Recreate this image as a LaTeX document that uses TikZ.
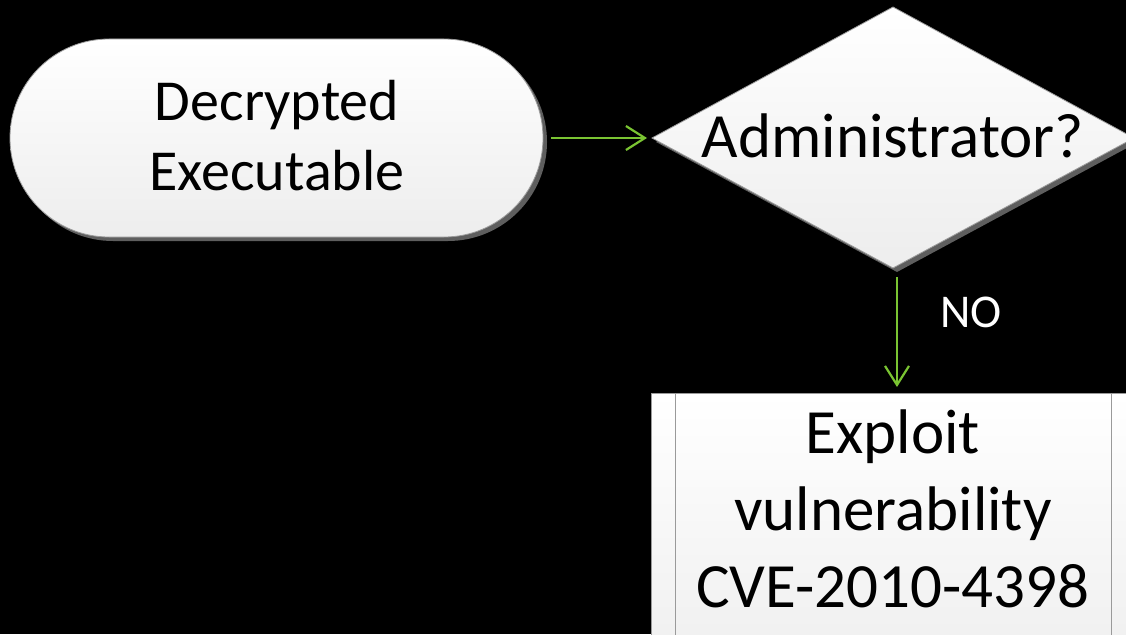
\documentclass[tikz,border=0pt]{standalone}
\usepackage{fontspec}
\setmainfont{Carlito}
\usetikzlibrary{arrows.meta,shadows}
\definecolor{arrgreen}{HTML}{7AC432}
\definecolor{shd}{HTML}{5E5E5E}
\definecolor{edgegray}{HTML}{9A9A9A}
\definecolor{fillbot}{HTML}{EDEDED}
\begin{document}
\begin{tikzpicture}[x=1pt,y=-1pt,
  shapefill/.style={top color=white, bottom color=fillbot, draw=edgegray, line width=0.8pt},
  shadowed/.style={drop shadow={shadow xshift=4pt, shadow yshift=-4pt, fill=shd, opacity=1}},
  termbox/.style={shapefill, shadowed, rounded corners=99pt, minimum width=533pt, minimum height=198pt, inner sep=0pt},
  arr/.style={draw=arrgreen, line width=2.2pt, -{Straight Barb[length=19pt,width=24pt]}},
  big/.style={font=\fontsize{63}{77}\selectfont, align=center, inner sep=0pt, text=black},
  mid/.style={font=\fontsize{58}{70}\selectfont, align=center, inner sep=0pt, text=black},
  nolbl/.style={font=\fontsize{47}{56}\selectfont, inner sep=0pt, text=white}]
\useasboundingbox[fill=black] (0,0) rectangle (1126,634);
\begin{scope}
\clip (0,0) rectangle (1126,634);
% terminator
\node[termbox] (dec) at (276.5,138) {};
\node[mid, anchor=base] (dect) at (277,190) {Decrypted\\Executable};
% decision
\coordinate (admN) at (893,7);
\coordinate (admE) at (1134,138);
\coordinate (admS) at (893,268);
\coordinate (admW) at (652,138);
\path[shapefill, shadowed] (admN) -- (admE) -- (admS) -- (admW) -- cycle;
\node[big, anchor=base] (admt) at (893,157) {Administrator?};
% predefined process
\coordinate (exNW) at (651,393);
\coordinate (exSE) at (1135,700);
\coordinate (exN) at (893,393);
\path[shapefill] (exNW) rectangle (exSE);
\draw[edgegray, line width=0.8pt] (675,393) -- (675,700) (1111,393) -- (1111,700);
\node[big, anchor=base] (expt) at (893,607) {Exploit\\vulnerability\\CVE-2010-4398};
% connectors
\draw[arr] ([xshift=8pt]dec.east) -- ([xshift=-5pt]admW);
\draw[arr] ([xshift=4pt,yshift=-9pt]admS) -- ([xshift=4pt,yshift=6pt]exN);
\node[nolbl, anchor=base west] (no) at (940,327) {NO};
\end{scope}
\end{tikzpicture}
\end{document}
